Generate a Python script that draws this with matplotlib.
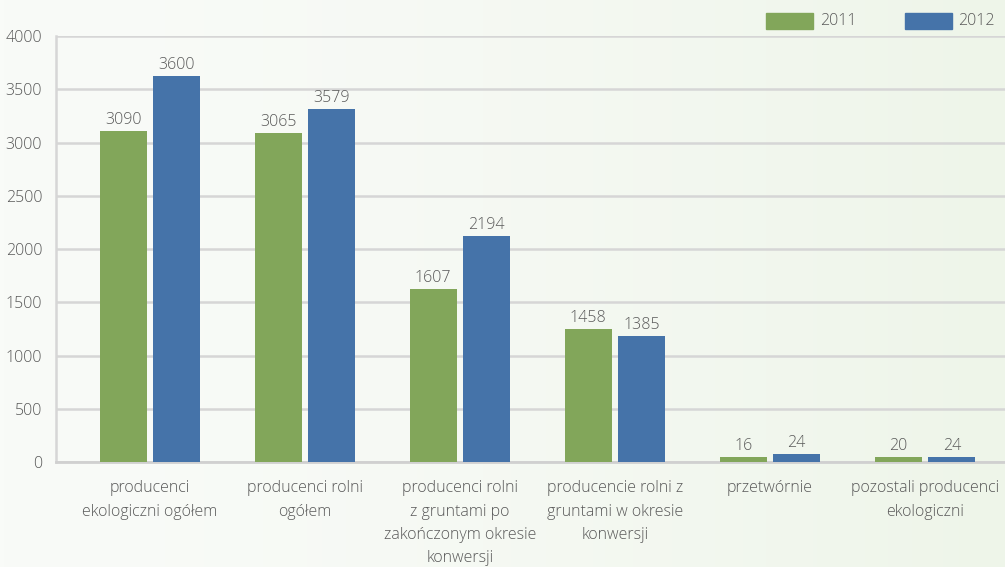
import numpy as np
import matplotlib
matplotlib.use("Agg")
import matplotlib.pyplot as plt
from matplotlib.patches import Rectangle
from matplotlib import font_manager

categories = [
    "producenci\nekologiczni ogółem",
    "producenci rolni\nogółem",
    "producenci rolni\nz gruntami po\nzakończonym okresie\nkonwersji",
    "producencie rolni z\ngruntami w okresie\nkonwersji",
    "przetwórnie",
    "pozostali producenci\nekologiczni",
]
# bar heights as drawn in the picture
heights_2011 = [3108, 3090, 1628, 1251, 50, 50]
heights_2012 = [3624, 3315, 2123, 1185, 78, 50]
# printed value labels
labels_2011 = ["3090", "3065", "1607", "1458", "16", "20"]
labels_2012 = ["3600", "3579", "2194", "1385", "24", "24"]
series_names = ["2011", "2012"]
yticks = [0, 500, 1000, 1500, 2000, 2500, 3000, 3500, 4000]

GREEN = "#82a65a"
BLUE = "#4573a9"
TXT = "#595959"
FONT = "Open Sans"
plt.rcParams["font.family"] = [FONT, "DejaVu Sans"]
plt.rcParams["font.weight"] = "light"

W, H = 1005, 567
fig = plt.figure(figsize=(W / 100, H / 100), dpi=100)

# background gradient
bg = fig.add_axes([0, 0, 1, 1], zorder=-10)
grad = np.linspace(0, 1, 256)
c0 = np.array([0xf9, 0xfb, 0xf8]) / 255
c1 = np.array([0xee, 0xf5, 0xe9]) / 255
img = c0[None, :] + (c1 - c0)[None, :] * (grad[:, None] ** 1.5)
bg.imshow(img[None, :, :], aspect="auto", extent=[0, 1, 0, 1])
bg.set_axis_off()

ax = fig.add_axes([56 / W, (H - 462.3) / H, 1 - 56 / W, (462.3 - 36) / H])
ax.set_facecolor("none")

x = np.arange(len(categories))
bw = 0.303
off = 0.1725
b1 = ax.bar(x - off, heights_2011, bw, color=GREEN, zorder=3)
b2 = ax.bar(x + off, heights_2012, bw, color=BLUE, zorder=3)

FS = 11.5
for bars, labs in ((b1, labels_2011), (b2, labels_2012)):
    for rect, lab in zip(bars, labs):
        ax.annotate(lab, (rect.get_x() + rect.get_width() / 2, rect.get_height()),
                    xytext=(0, 2), textcoords="offset points",
                    ha="center", va="bottom", fontsize=FS, color=TXT)

ax.set_ylim(0, 4000)
ax.set_xlim(-0.606, 5.516)
ax.set_yticks(yticks)
ax.set_yticklabels([str(v) for v in yticks], fontsize=FS, color=TXT)
ax.yaxis.grid(True, color="#d6d6d6", linewidth=1.8, zorder=0)
ax.set_axisbelow(True)
ax.tick_params(axis="y", length=0, pad=10)
ax.set_xticks(x)
ax.set_xticklabels(categories, fontsize=FS, color=TXT, linespacing=1.6)
ax.tick_params(axis="x", length=0, pad=13)
for s in ("top", "right"):
    ax.spines[s].set_visible(False)
ax.spines["left"].set_color("#d6d6d6")
ax.spines["left"].set_linewidth(1.8)
ax.spines["bottom"].set_color("#d0d0d0")
ax.spines["bottom"].set_linewidth(2.0)

# legend
for (px, tx, col, name) in ((766, 820, GREEN, series_names[0]), (905, 958, BLUE, series_names[1])):
    fig.patches.append(Rectangle((px / W, (H - 29) / H), 47 / W, 16 / H,
                                 transform=fig.transFigure, color=col))
    fig.text(tx / W, (H - 21) / H, name, ha="left", va="center",
             fontsize=FS, color=TXT)

fig.savefig("out.png", dpi=100)
